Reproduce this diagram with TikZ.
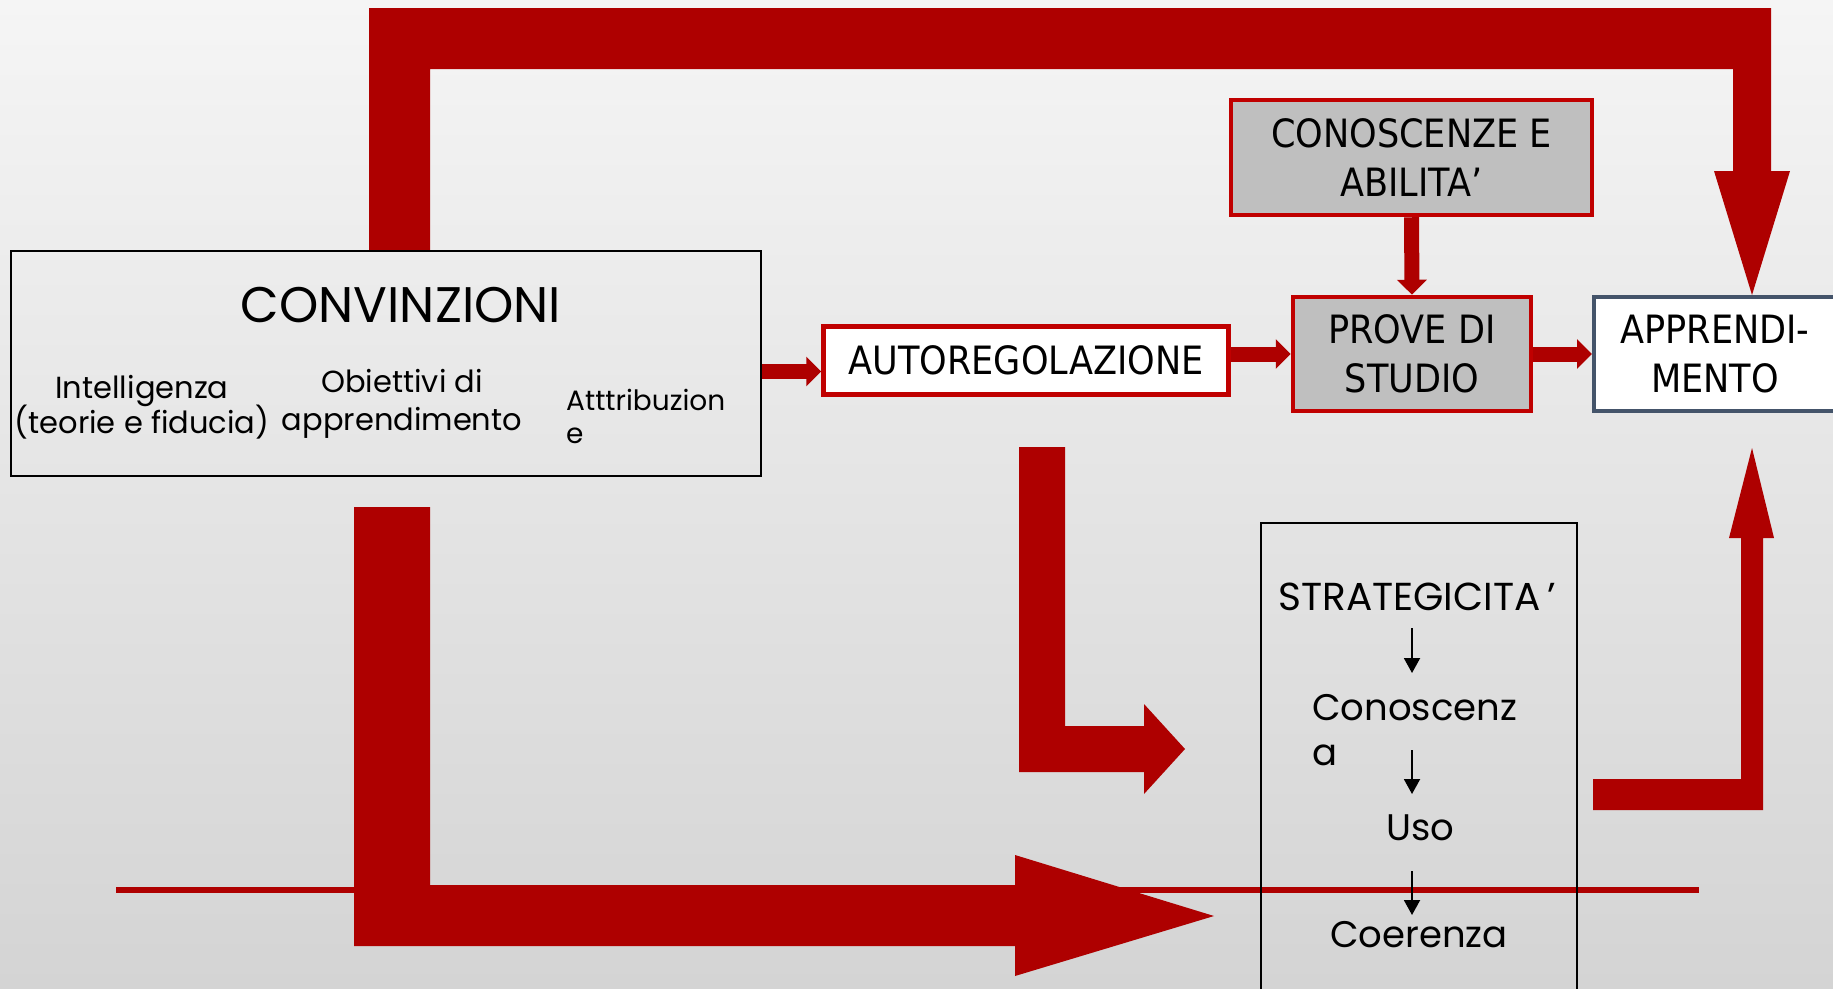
\documentclass[tikz,border=0pt]{standalone}
\usepackage{fontspec}
\setmainfont{Poppins}
\newfontfamily\condfont[FakeStretch=0.9]{DejaVu Sans}
\usetikzlibrary{arrows.meta}
\definecolor{bgtop}{RGB}{245,245,245}
\definecolor{bgbot}{RGB}{212,212,212}
\definecolor{arrowred}{RGB}{174,0,0}
\definecolor{boxred}{RGB}{192,0,0}
\definecolor{boxgray}{RGB}{191,191,191}
\definecolor{slate}{RGB}{68,84,106}
\tikzset{
  plainbox/.style={draw=black, line width=2pt, inner sep=0pt},
  redbox/.style={draw=boxred, line width=4.5pt, inner sep=0pt, align=center,
    font={\condfont\fontsize{39}{48.5}\selectfont}},
  slatebox/.style={draw=slate, line width=4pt, fill=white, inner sep=0pt, align=center,
    font={\condfont\fontsize{39}{48.5}\selectfont}},
  bigtext/.style={inner sep=0pt, anchor=base, font={\fontsize{50}{58}\selectfont}},
  smalltext/.style={inner sep=0pt, anchor=base, font={\fontsize{30.5}{35}\selectfont}},
  attrtext/.style={inner sep=0pt, anchor=base west, font={\fontsize{28}{35}\selectfont}},
  strattext/.style={inner sep=0pt, anchor=base, font={\fontsize{37}{45}\selectfont}},
  blockarrow/.style={fill=arrowred, draw=none},
  smallarrow/.style={draw=arrowred, line width=15pt, -{Triangle[length=15pt,width=29pt]}},
  blackarrow/.style={draw=black, line width=2pt, -{Triangle[length=15pt,width=16pt]}}
}
\begin{document}
\begin{tikzpicture}[x=1pt,y=-1pt]
\useasboundingbox (0,0) rectangle (1833,988);
\shade[top color=bgtop, bottom color=bgbot] (0,0) rectangle (1833,988);

% thin red line
\coordinate (lineL) at (116,890);
\coordinate (lineR) at (1699,890);
\draw[arrowred, line width=6pt] (lineL) -- (lineR);

% big block arrows
\path[blockarrow] (369,250) -- (369,8) -- (1771,8) -- (1771,171) -- (1790,171)
  -- (1752,295) -- (1714,171) -- (1733,171) -- (1733,69) -- (430,69) -- (430,250) -- cycle;
\path[blockarrow] (354,507) -- (430,507) -- (430,885) -- (1015,885) -- (1015,855)
  -- (1214,916) -- (1015,976) -- (1015,946) -- (354,946) -- cycle;
\path[blockarrow] (1019,447) -- (1065,447) -- (1065,726) -- (1144,726) -- (1144,704)
  -- (1185,749) -- (1144,794) -- (1144,772) -- (1019,772) -- cycle;
\path[blockarrow] (1593,779) -- (1741,779) -- (1741,538) -- (1729,538) -- (1752,448)
  -- (1774,538) -- (1763,538) -- (1763,810) -- (1593,810) -- cycle;

% boxes
\node[plainbox, minimum width=750pt, minimum height=225pt] (conv) at (386,363.5) {};
\node[redbox, fill=white, minimum width=405pt, minimum height=68pt] (auto) at (1026,360.5) {AUTOREGOLAZIONE};
\node[redbox, fill=boxgray, minimum width=361pt, minimum height=115pt] (con) at (1411.5,157.5) {CONOSCENZE E\\ABILITA’};
\node[redbox, fill=boxgray, minimum width=238pt, minimum height=114pt] (prove) at (1412,354) {PROVE DI\\STUDIO};
\node[slatebox, minimum width=242pt, minimum height=114pt] (appr) at (1715,354) {APPRENDI-\\MENTO};
\node[plainbox, minimum width=316pt, minimum height=480pt] (strat) at (1419,763) {};

% texts in CONVINZIONI
\node[bigtext] (tconv) at (401,322) {CONVINZIONI};
\node[smalltext] (tint1) at (142,398) {Intelligenza};
\node[smalltext] (tint2) at (142,433) {(teorie e fiducia)};
\node[smalltext] (tobi1) at (402,392) {Obiettivi di};
\node[smalltext] (tobi2) at (402,430) {apprendimento};
\node[attrtext] (tatt1) at (566,410) {Atttribuzion};
\node[attrtext] (tatt2) at (566,443) {e};

% texts in STRATEGICITA
\node[strattext, font={\fontsize{39}{45}\selectfont}] (tstrat) at (1417,610) {STRATEGICITA\,’};
\node[strattext, anchor=base west] (tcon1) at (1312,720) {Conoscenz};
\node[strattext, anchor=base west] (tcon2) at (1312,765) {a};
\node[strattext] (tuso) at (1420,840) {Uso};
\node[strattext] (tcoe) at (1419,947) {Coerenza};

% small black arrows
\coordinate (a1s) at (1412,628); \coordinate (a1e) at (1412,673);
\coordinate (a2s) at (1412,750); \coordinate (a2e) at (1412,794);
\coordinate (a3s) at (1412,871); \coordinate (a3e) at (1412,915);
\draw[blackarrow] (a1s) -- (a1e);
\draw[blackarrow] (a2s) -- (a2e);
\draw[blackarrow] (a3s) -- (a3e);

% small red connectors
\path (auto.west) ++(0,11) coordinate (autoin);
\draw[smallarrow] (conv.east |- autoin) -- (autoin);
\draw[smallarrow] (auto.east |- prove.west) -- (prove.west);
\draw[smallarrow] (prove.east) -- (appr.west);
\draw[smallarrow] (con.south) -- (prove.north);
\end{tikzpicture}
\end{document}
